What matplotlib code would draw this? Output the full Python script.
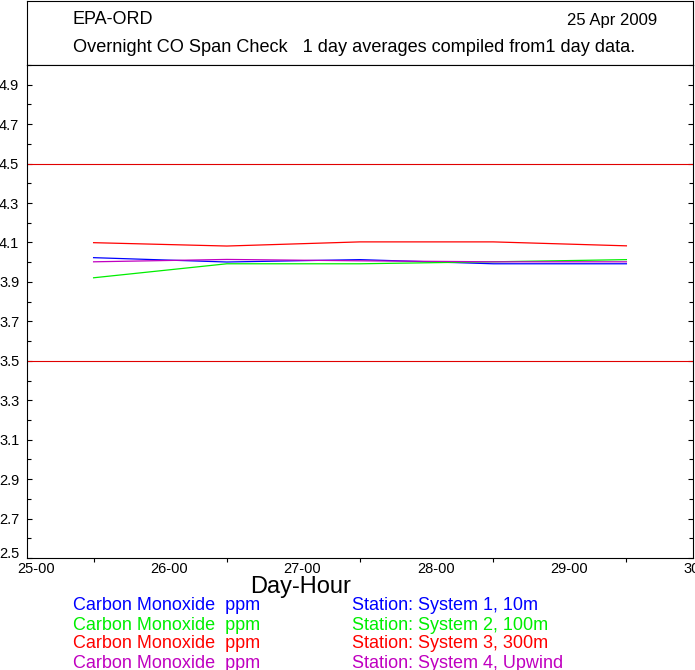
import matplotlib
matplotlib.use('Agg')
import matplotlib.pyplot as plt
import matplotlib.transforms as mtransforms
from matplotlib.ticker import MultipleLocator, FixedLocator, FixedFormatter

plt.rcParams['font.family'] = ['Liberation Sans', 'DejaVu Sans']

# ---------------- data (daily averages, plotted at mid-day) ----------------
days = [25.5, 26.5, 27.5, 28.5, 29.5]
sys1_10m = [4.023, 4.001, 4.013, 3.992, 3.992]
sys2_100m = [3.921, 3.992, 3.992, 4.002, 4.013]
sys3_300m = [4.099, 4.082, 4.103, 4.103, 4.083]
sys4_upwind = [4.002, 4.014, 4.007, 4.002, 4.002]

limit_lines = [3.5, 4.5]

x_tick_days = [25, 26, 27, 28, 29, 30]
x_tick_labels = ['25-00', '26-00', '27-00', '28-00', '29-00', '30-00']

series_names = ['Station: System 1, 10m', 'Station: System 2, 100m',
                'Station: System 3, 300m', 'Station: System 4, Upwind']
series_colors = ['#0000ff', '#00ee00', '#ff0000', '#c000c0']

header_left = 'EPA-ORD'
header_date = '25 Apr 2009'
header_sub = 'Overnight CO Span Check   1 day averages compiled from1 day data.'

# ---------------- figure ----------------
W, H = 695, 670
fig = plt.figure(figsize=(W / 100, H / 100), dpi=100)

def fx(px):
    return px / W

def fy(py):
    return 1 - py / H

# header box
hax = fig.add_axes([fx(27), fy(65), fx(693) - fx(27), fy(1) - fy(65)])
hax.set_xticks([])
hax.set_yticks([])
for sp in hax.spines.values():
    sp.set_linewidth(0.8)
fig.text(fx(73), fy(20), header_left, fontsize=13, va='center', ha='left')
fig.text(fx(657), fy(20), header_date, fontsize=12, va='center', ha='right')
fig.text(fx(73), fy(48), header_sub, fontsize=13.1, va='center', ha='left')

# main plot
ax = fig.add_axes([fx(27), fy(558), fx(693) - fx(27), fy(65) - fy(558)])
series = [sys1_10m, sys2_100m, sys3_300m, sys4_upwind]
for vals, col in zip(series, series_colors):
    ax.plot(days, vals, color=col, lw=0.9)
for yv in limit_lines:
    ax.axhline(yv, color='#e00000', lw=0.8)

ax.set_xlim(25, 30)
ax.set_ylim(2.5, 5.0)

ax.yaxis.set_minor_locator(MultipleLocator(0.1))
ax.set_yticks([2.5 + 0.2 * i for i in range(13)])
ax.set_yticklabels(['%.1f' % (2.5 + 0.2 * i) for i in range(13)])
ax.tick_params(axis='y', which='both', direction='in', left=True, right=True,
               labelsize=10.5, pad=5.5)
ax.tick_params(axis='y', which='major', length=3.6, width=0.8)
ax.tick_params(axis='y', which='minor', length=3.0, width=0.8)

ax.xaxis.set_major_locator(FixedLocator(x_tick_days))
ax.xaxis.set_major_formatter(FixedFormatter(x_tick_labels))
ax.xaxis.set_minor_locator(FixedLocator(days))
ax.tick_params(axis='x', which='major', length=0, labelsize=10.5, pad=3)
ax.tick_params(axis='x', which='minor', direction='out', length=3.2, width=0.8)

offset = mtransforms.ScaledTranslation(9 / 100, 0, fig.dpi_scale_trans)
for lab in ax.get_xticklabels():
    lab.set_transform(lab.get_transform() + offset)
    lab.set_clip_on(False)
# lowest y label sits a little higher
ylabs = ax.get_yticklabels()
ylabs[0].set_transform(ylabs[0].get_transform() +
                       mtransforms.ScaledTranslation(0, 5 / 100, fig.dpi_scale_trans))

for sp in ax.spines.values():
    sp.set_linewidth(0.8)

fig.text(fx(301), fy(587), 'Day-Hour', fontsize=17, ha='center', va='center')

# legend text
for i, (name, col) in enumerate(zip(series_names, series_colors)):
    yy = fy(606 + 19 * i)
    fig.text(fx(73), yy, 'Carbon Monoxide  ppm', color=col, fontsize=13,
             ha='left', va='center')
    fig.text(fx(352), yy, name, color=col, fontsize=13, ha='left', va='center')

fig.savefig('out.png', dpi=100)
